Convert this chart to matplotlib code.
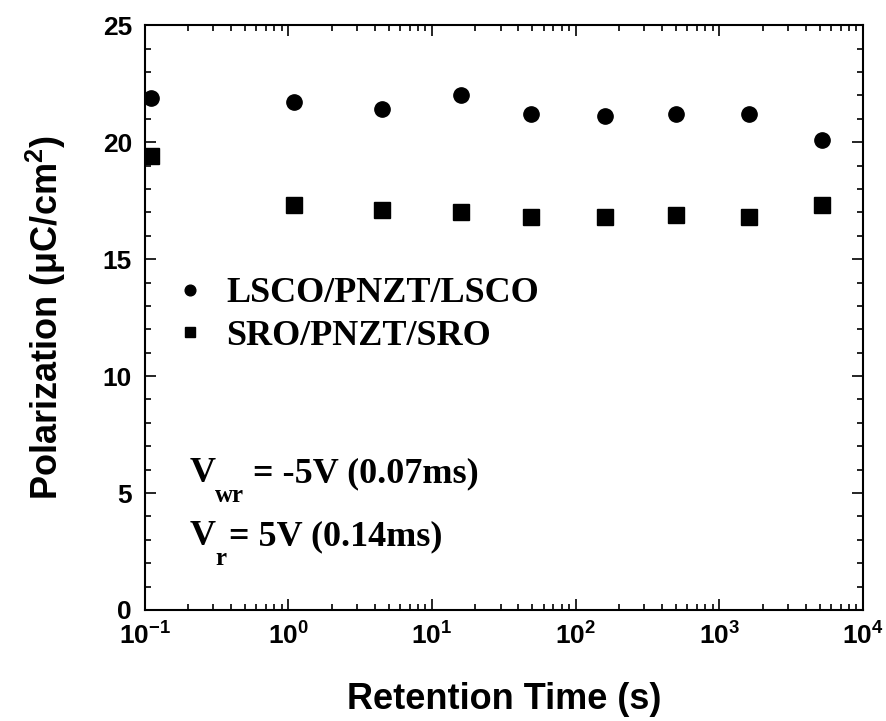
import math
import matplotlib
matplotlib.use("Agg")
import matplotlib.pyplot as plt
from matplotlib.ticker import LogLocator, MultipleLocator, FuncFormatter, NullFormatter

plt.rcParams['font.family'] = ['Liberation Sans', 'DejaVu Sans']
plt.rcParams['font.weight'] = 'bold'
plt.rcParams['mathtext.fontset'] = 'custom'
plt.rcParams['mathtext.rm'] = 'Liberation Sans:bold'
plt.rcParams['mathtext.bf'] = 'Liberation Sans:bold'
plt.rcParams['mathtext.it'] = 'Liberation Sans:bold'
plt.rcParams['mathtext.default'] = 'bf'

# retention time (s)
time_lsco = [0.11, 1.1, 4.5, 15.9, 49, 159, 500, 1610, 5200]
pol_lsco = [21.9, 21.7, 21.4, 22.0, 21.2, 21.1, 21.2, 21.2, 20.1]

time_sro = [0.11, 1.1, 4.5, 15.9, 49, 159, 500, 1610, 5200]
pol_sro = [19.4, 17.3, 17.1, 17.0, 16.8, 16.8, 16.9, 16.8, 17.3]

label_lsco = "LSCO/PNZT/LSCO"
label_sro = "SRO/PNZT/SRO"

fig = plt.figure(figsize=(8.87, 7.21), dpi=100)
ax = fig.add_axes([0.163, 0.154, 0.810, 0.811])

ax.plot(time_lsco, pol_lsco, 'o', color='black', markersize=11, label=label_lsco)
ax.plot(time_sro, pol_sro, 's', color='black', markersize=11, label=label_sro)

ax.set_xscale('log')
ax.set_xlim(0.1, 1e4)
ax.set_ylim(0, 25)

ax.xaxis.set_major_locator(LogLocator(base=10, numticks=10))
ax.xaxis.set_minor_locator(LogLocator(base=10, subs=range(2, 10), numticks=20))
ax.xaxis.set_minor_formatter(NullFormatter())
ax.xaxis.set_major_formatter(FuncFormatter(lambda v, p: r'$10^{%d}$' % round(math.log10(v))))
ax.yaxis.set_major_locator(MultipleLocator(5))
ax.yaxis.set_minor_locator(MultipleLocator(1))

ax.tick_params(which='both', direction='in', top=True, right=True, width=1.2)
ax.tick_params(which='major', length=8, labelsize=19, pad=9)
ax.tick_params(which='minor', length=4.5)
for s in ax.spines.values():
    s.set_linewidth(1.5)

ax.set_xlabel('Retention Time (s)', fontsize=26, fontweight='bold', labelpad=23)
ax.set_ylabel(r'Polarization (μC/cm$^{2}$)', fontsize=26, fontweight='bold', labelpad=25)

leg = ax.legend(loc='upper left', bbox_to_anchor=(0.003, 0.625), frameon=False,
                markerscale=0.7, handlelength=0.6, handletextpad=0.7, labelspacing=0.25,
                prop={'family': 'Liberation Serif', 'weight': 'bold', 'size': 26})

serif = {'family': 'Liberation Serif', 'weight': 'bold'}
W, H = 887.0, 721.0
fig.text(190 / W, 1 - 482 / H, "V", fontsize=26, **serif)
fig.text(215 / W, 1 - 502 / H, "wr", fontsize=18, **serif)
fig.text(253 / W, 1 - 482 / H, "= -5V (0.07ms)", fontsize=26, **serif)
fig.text(190 / W, 1 - 545 / H, "V", fontsize=26, **serif)
fig.text(215 / W, 1 - 565 / H, "r", fontsize=18, **serif)
fig.text(229 / W, 1 - 545 / H, "= 5V (0.14ms)", fontsize=26, **serif)

fig.savefig("out.png", dpi=100)
